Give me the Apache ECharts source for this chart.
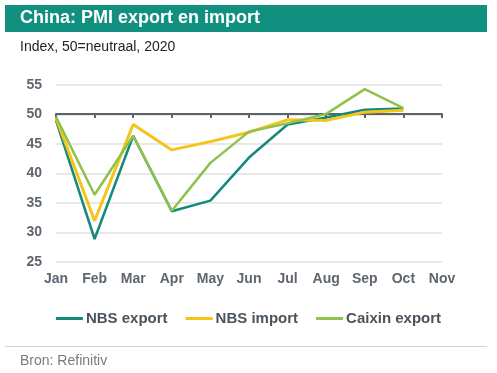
<!DOCTYPE html>
<html>
<head>
<meta charset="utf-8">
<script src="https://cdn.jsdelivr.net/npm/echarts@6/dist/echarts.min.js"></script>
<style>html,body{margin:0;padding:0;background:#fff}#c{width:497px;height:373px}</style>
</head>
<body>
<div id="c"></div>
<script>
const months = ['Jan','Feb','Mar','Apr','May','Jun','Jul','Aug','Sep','Oct','Nov'];
const nbsExport = [49.0, 28.9, 46.4, 33.6, 35.4, 42.7, 48.3, 49.5, 50.8, 51.0];
const nbsImport = [49.4, 32.0, 48.3, 44.0, 45.4, 47.0, 49.1, 49.0, 50.4, 50.7];
const caixinExport = [49.6, 36.4, 46.4, 33.7, 41.8, 47.1, 48.5, 50.1, 54.3, 51.1];
const yTicks = [25, 30, 35, 40, 45, 50, 55];

const font = 'Liberation Sans, Arial, sans-serif';
const chart = echarts.init(document.getElementById('c'), null, {renderer: 'canvas'});
chart.setOption({
  animation: false,
  textStyle: {fontFamily: font},
  graphic: [
    {type: 'rect', shape: {x: 5, y: 5, width: 482, height: 27}, style: {fill: '#12907f'}},
    {type: 'text', left: 20, top: 9, style: {text: 'China: PMI export en import', fill: '#ffffff', font: 'bold 18px ' + font}},
    {type: 'text', left: 20, top: 40, style: {text: 'Index, 50=neutraal, 2020', fill: '#222222', font: '14px ' + font}},
    {type: 'rect', shape: {x: 5, y: 346, width: 482, height: 1}, style: {fill: '#d4d4d4'}},
    {type: 'text', left: 20, top: 354, style: {text: 'Bron: Refinitiv', fill: '#7a7a7a', font: '14px ' + font}}
  ],
  grid: {left: 56, right: 55, top: 85, bottom: 111, containLabel: false},
  legend: {
    top: 306, left: 'center', itemWidth: 27, itemHeight: 3, itemGap: 18,
    icon: 'rect',
    textStyle: {fontSize: 15, fontWeight: 'bold', color: '#4a535b', fontFamily: font, padding: [0, 0, 0, -2]},
    data: ['NBS export', 'NBS import', 'Caixin export']
  },
  xAxis: [
    {
      type: 'category', data: months, boundaryGap: false,
      axisLine: {show: false}, axisTick: {show: false},
      axisLabel: {fontSize: 14, fontWeight: 'bold', color: '#5d6670', margin: 10, fontFamily: font}
    },
    {
      type: 'category', data: months, boundaryGap: false, position: 'bottom', offset: -148,
      axisLine: {show: true, lineStyle: {color: '#5a626a', width: 2}},
      axisTick: {show: true, length: 4, lineStyle: {color: '#5a626a', width: 2}},
      axisLabel: {show: false}
    }
  ],
  yAxis: {
    type: 'value', min: yTicks[0], max: yTicks[yTicks.length - 1], interval: 5,
    axisLine: {show: false}, axisTick: {show: false},
    axisLabel: {fontSize: 14, fontWeight: 'bold', color: '#5d6670', margin: 14, fontFamily: font},
    splitLine: {lineStyle: {color: '#e0e0e0', width: 1.5}}
  },
  series: [
    {name: 'NBS export', type: 'line', data: nbsExport, symbol: 'none', z: 3,
     lineStyle: {color: '#13897a', width: 2.5}, itemStyle: {color: '#13897a'}},
    {name: 'NBS import', type: 'line', data: nbsImport, symbol: 'none', z: 4,
     lineStyle: {color: '#f4c41a', width: 3}, itemStyle: {color: '#f4c41a'}},
    {name: 'Caixin export', type: 'line', data: caixinExport, symbol: 'none', z: 5,
     lineStyle: {color: '#8fc24a', width: 2.5}, itemStyle: {color: '#8fc24a'}}
  ]
});
</script>
</body>
</html>
